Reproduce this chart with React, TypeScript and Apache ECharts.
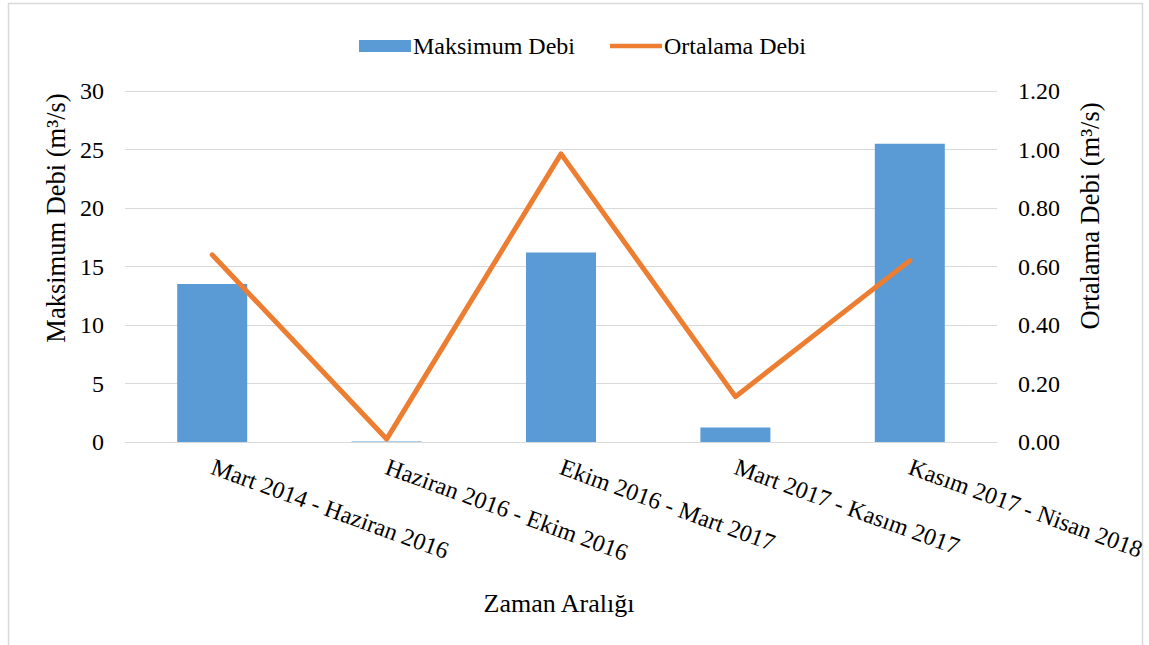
import React, { useEffect, useRef } from "react";
import * as echarts from "echarts";

const categories = [
  "Mart 2014 - Haziran 2016",
  "Haziran 2016 - Ekim 2016",
  "Ekim 2016 - Mart 2017",
  "Mart 2017 - Kasım 2017",
  "Kasım 2017 - Nisan 2018",
];
const maksimumDebi = [13.5, 0.05, 16.2, 1.25, 25.5];
const ortalamaDebi = [0.64, 0.01, 0.985, 0.155, 0.62];

const FONT = "Times New Roman, Liberation Serif, Tinos, serif";
const GRID = "#D9D9D9";

export default function App() {
  const ref = useRef<HTMLDivElement>(null);
  useEffect(() => {
    if (!ref.current) return;
    const chart = echarts.init(ref.current, null, { renderer: "svg" });
    chart.setOption({
      animation: false,
      backgroundColor: "#fff",
      textStyle: { fontFamily: FONT, color: "#000" },
      legend: {
        left: 354,
        top: 29,
        itemWidth: 52,
        itemHeight: 12,
        itemGap: 35,
        textStyle: { fontFamily: FONT, fontSize: 24, color: "#000", padding: [0, 0, 0, -3] },
        data: [
          { name: "Maksimum Debi", icon: "rect" },
          { name: "Ortalama Debi", icon: "path://M0 0H56V5H0Z" },
        ],
      },
      grid: { left: 125, right: 152, top: 91, bottom: 203, containLabel: false },
      xAxis: {
        type: "category",
        data: categories,
        axisLine: { show: true, lineStyle: { color: GRID, width: 1 } },
        axisTick: { show: false },
        axisLabel: {
          rotate: -20,
          margin: 24,
          interval: 0,
          fontFamily: FONT,
          fontSize: 24,
          color: "#000",
        },
      },
      yAxis: [
        {
          type: "value",
          min: 0,
          max: 30,
          interval: 5,
          axisLine: { show: false },
          axisTick: { show: false },
          splitLine: { lineStyle: { color: GRID, width: 1 } },
          axisLabel: { margin: 21, fontFamily: FONT, fontSize: 24, color: "#000" },
        },
        {
          type: "value",
          min: 0,
          max: 1.2,
          interval: 0.2,
          position: "right",
          axisLine: { show: false },
          axisTick: { show: false },
          splitLine: { show: false },
          axisLabel: {
            margin: 21,
            fontFamily: FONT,
            fontSize: 24,
            color: "#000",
            formatter: (v: number) => v.toFixed(2),
          },
        },
      ],
      series: [
        {
          name: "Maksimum Debi",
          type: "bar",
          data: maksimumDebi,
          barWidth: 70,
          itemStyle: { color: "#5B9BD5" },
          yAxisIndex: 0,
        },
        {
          name: "Ortalama Debi",
          type: "line",
          data: ortalamaDebi,
          yAxisIndex: 1,
          symbol: "none",
          itemStyle: { color: "#ED7D31" },
          lineStyle: { color: "#ED7D31", width: 5, cap: "round", join: "round" },
        },
      ],
      graphic: [
        {
          type: "rect",
          shape: { x: 8.5, y: 3.5, width: 1134, height: 700 },
          style: { fill: "none", stroke: GRID, lineWidth: 1.5 },
          silent: true,
        },
        {
          type: "text",
          x: 56,
          y: 218,
          rotation: Math.PI / 2,
          style: {
            text: "Maksimum Debi (m³/s)",
            fontFamily: FONT,
            fontSize: 26.5,
            fill: "#000",
            align: "center",
            verticalAlign: "middle",
          },
        },
        {
          type: "text",
          x: 1090,
          y: 216,
          rotation: Math.PI / 2,
          style: {
            text: "Ortalama Debi (m³/s)",
            fontFamily: FONT,
            fontSize: 26.5,
            fill: "#000",
            align: "center",
            verticalAlign: "middle",
          },
        },
        {
          type: "text",
          x: 559,
          y: 603,
          style: {
            text: "Zaman Aralığı",
            fontFamily: FONT,
            fontSize: 26,
            fill: "#000",
            align: "center",
            verticalAlign: "middle",
          },
        },
      ],
    });
    return () => chart.dispose();
  }, []);
  return (
    <div
      ref={ref}
      style={{ position: "absolute", left: 0, top: 0, width: 1149, height: 645 }}
    />
  );
}
